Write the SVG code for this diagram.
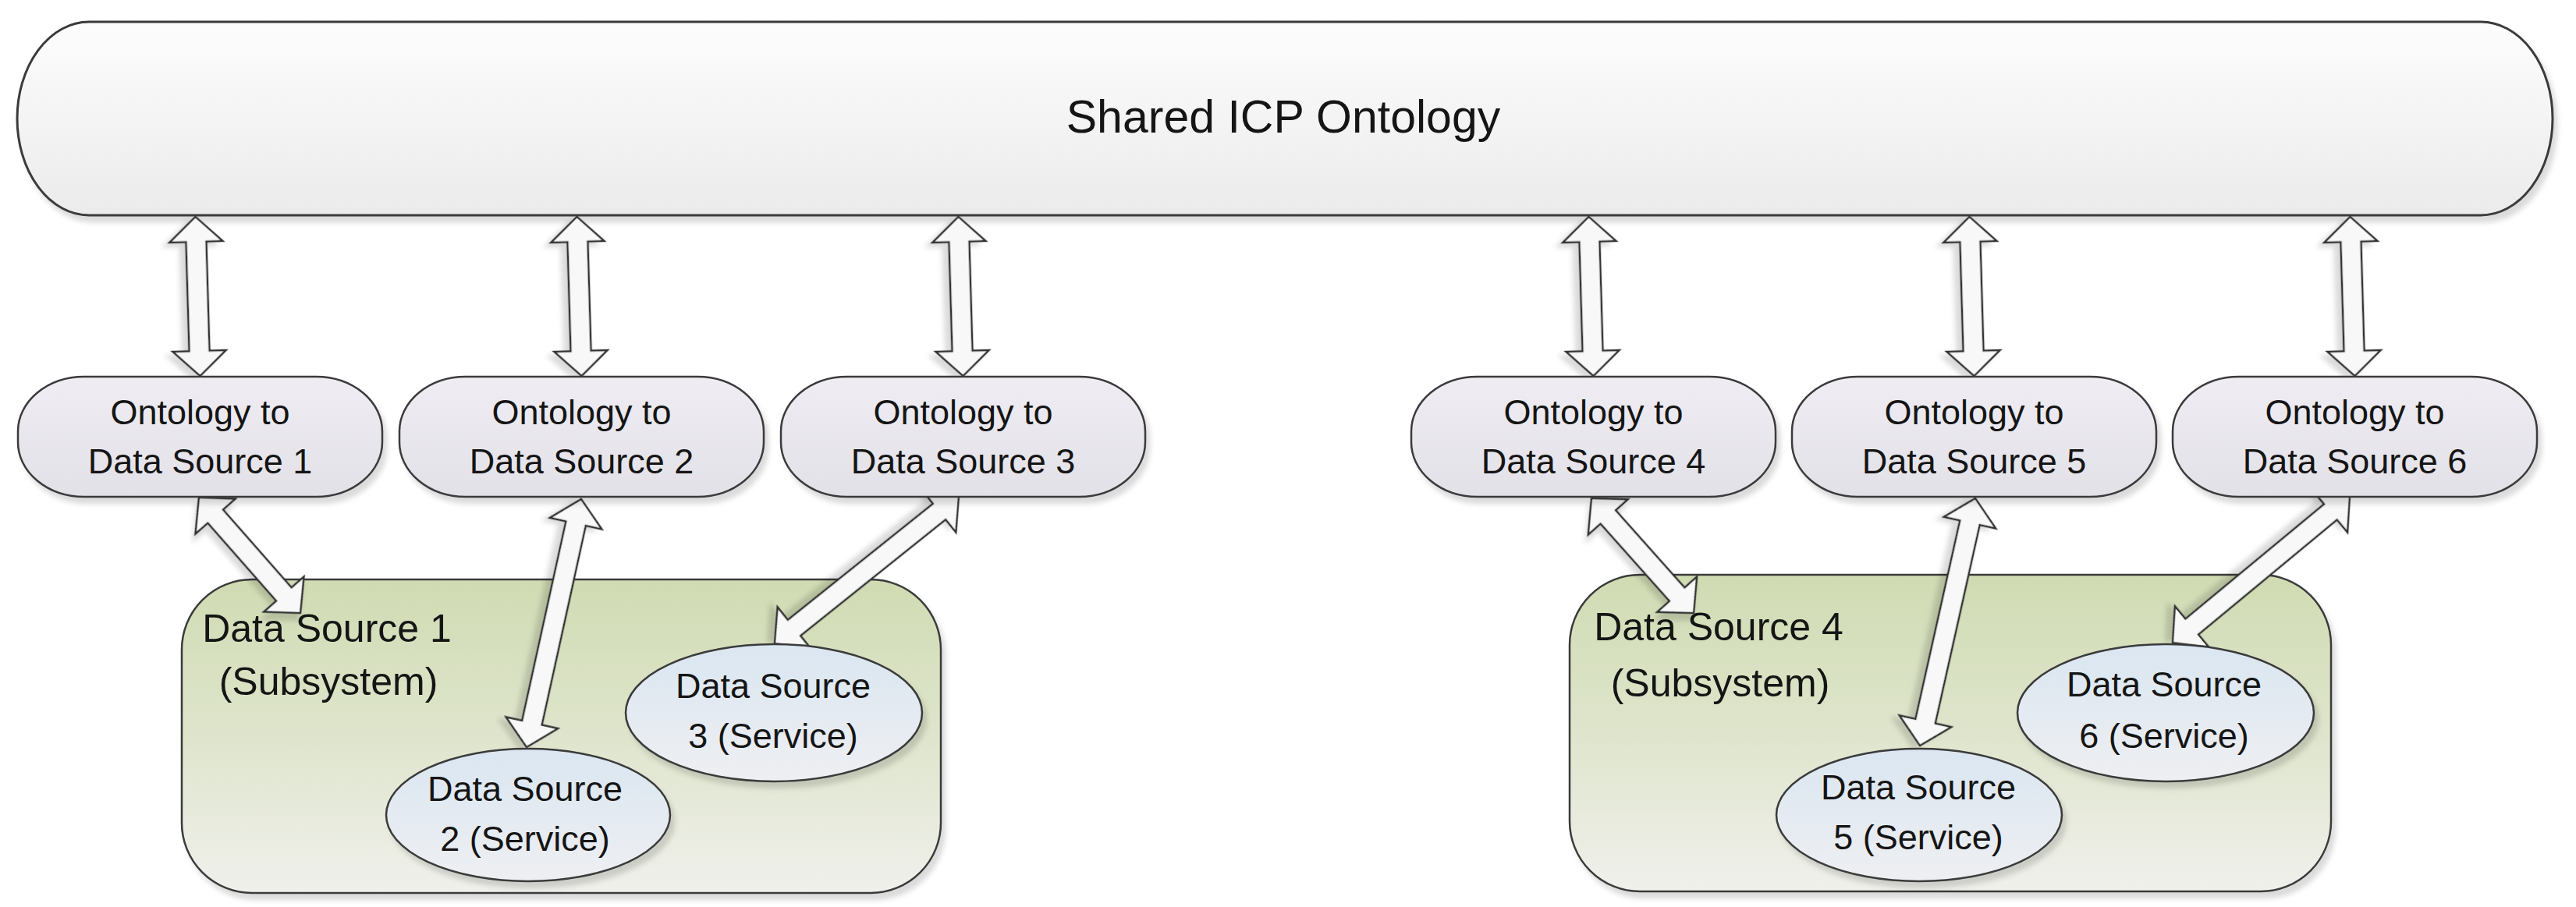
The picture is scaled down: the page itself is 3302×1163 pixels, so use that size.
<svg xmlns="http://www.w3.org/2000/svg" width="3302" height="1163" viewBox="0 0 3302 1163">
<defs>
<linearGradient id="gTop" x1="0" y1="0" x2="0" y2="1"><stop offset="0" stop-color="#fdfdfd"/><stop offset="1" stop-color="#ebebeb"/></linearGradient>
<linearGradient id="gOnt" x1="0" y1="0" x2="0" y2="1"><stop offset="0" stop-color="#efedf3"/><stop offset="1" stop-color="#e3e1e8"/></linearGradient>
<linearGradient id="gSub" x1="0" y1="0" x2="0" y2="1"><stop offset="0" stop-color="#d0dbb2"/><stop offset="0.55" stop-color="#e0e6cf"/><stop offset="1" stop-color="#f0f0ec"/></linearGradient>
<linearGradient id="gSvc" x1="0" y1="0" x2="0" y2="1"><stop offset="0" stop-color="#dae6f1"/><stop offset="1" stop-color="#eeeff2"/></linearGradient>
<filter id="sh" x="-10%" y="-10%" width="120%" height="130%"><feDropShadow dx="5" dy="8" stdDeviation="3" flood-color="#000" flood-opacity="0.14"/></filter>
</defs>
<style>
.top{fill:url(#gTop);stroke:#3a3a3a;stroke-width:3;filter:url(#sh)}
.ont{fill:url(#gOnt);stroke:#3a3a3a;stroke-width:2.5;filter:url(#sh)}
.sub{fill:url(#gSub);stroke:#3a3a3a;stroke-width:2.5;filter:url(#sh)}
.svc{fill:url(#gSvc);stroke:#3a3a3a;stroke-width:2.5;filter:url(#sh)}
.arr{fill:#f8f8f8;stroke:#333;stroke-width:2.5;stroke-linejoin:miter;filter:url(#sh)}
text{font-family:"Liberation Sans",Arial,sans-serif;fill:#151515;text-anchor:middle}
.t1{font-size:59px}
.t2{font-size:45px}
.t3{font-size:50px}
</style>
<rect width="3302" height="1163" fill="#ffffff"/>

<g id="shared-icp-ontology">
<rect class="top" x="22" y="28" width="3250" height="248" rx="92" ry="124"/>
<text class="t1" x="1645" y="170">Shared ICP Ontology</text>
</g>

<g id="subsystem-1">
<rect class="sub" x="233" y="743" width="973" height="402" rx="90" ry="90"/>
<text class="t3" x="419" y="823">Data Source 1</text>
<text class="t3" x="421" y="891">(Subsystem)</text>
</g>
<g id="subsystem-4">
<rect class="sub" x="2012" y="737" width="976" height="406" rx="90" ry="90"/>
<text class="t3" x="2203" y="821">Data Source 4</text>
<text class="t3" x="2205" y="893">(Subsystem)</text>
</g>

<g id="connectors">
<path id="a-top-1" class="arr" transform="translate(250.5,278) rotate(88.32)" d="M0,0 L32,-34 L32,-13 L172.09,-13 L172.09,-34 L204.09,0 L172.09,34 L172.09,13 L32,13 L32,34 Z"/>
<path id="a-top-2" class="arr" transform="translate(739.5,278) rotate(88.32)" d="M0,0 L32,-34 L32,-13 L172.09,-13 L172.09,-34 L204.09,0 L172.09,34 L172.09,13 L32,13 L32,34 Z"/>
<path id="a-top-3" class="arr" transform="translate(1228.5,278) rotate(88.32)" d="M0,0 L32,-34 L32,-13 L172.09,-13 L172.09,-34 L204.09,0 L172.09,34 L172.09,13 L32,13 L32,34 Z"/>
<path id="a-top-4" class="arr" transform="translate(2036.5,278) rotate(88.32)" d="M0,0 L32,-34 L32,-13 L172.09,-13 L172.09,-34 L204.09,0 L172.09,34 L172.09,13 L32,13 L32,34 Z"/>
<path id="a-top-5" class="arr" transform="translate(2524.5,278) rotate(88.32)" d="M0,0 L32,-34 L32,-13 L172.09,-13 L172.09,-34 L204.09,0 L172.09,34 L172.09,13 L32,13 L32,34 Z"/>
<path id="a-top-6" class="arr" transform="translate(3012.5,278) rotate(88.32)" d="M0,0 L32,-34 L32,-13 L172.09,-13 L172.09,-34 L204.09,0 L172.09,34 L172.09,13 L32,13 L32,34 Z"/>

<path id="a-ds-1" class="arr" transform="translate(255,638) rotate(48.70)" d="M0,0 L32,-34 L32,-13 L164.99,-13 L164.99,-34 L196.99,0 L164.99,34 L164.99,13 L32,13 L32,34 Z"/>
<path id="a-ds-2" class="arr" transform="translate(745,640) rotate(102.41)" d="M0,0 L32,-34 L32,-13 L293.61,-13 L293.61,-34 L325.61,0 L293.61,34 L293.61,13 L32,13 L32,34 Z"/>
<path id="a-ds-3" class="arr" transform="translate(1229,636) rotate(141.31)" d="M0,0 L32,-34 L32,-13 L270.35,-13 L270.35,-34 L302.35,0 L270.35,34 L270.35,13 L32,13 L32,34 Z"/>
<path id="a-ds-4" class="arr" transform="translate(2040,639) rotate(48.30)" d="M0,0 L32,-34 L32,-13 L164.90,-13 L164.90,-34 L196.90,0 L164.90,34 L164.90,13 L32,13 L32,34 Z"/>
<path id="a-ds-5" class="arr" transform="translate(2532,639) rotate(102.62)" d="M0,0 L32,-34 L32,-13 L292.85,-13 L292.85,-34 L324.85,0 L292.85,34 L292.85,13 L32,13 L32,34 Z"/>
<path id="a-ds-6" class="arr" transform="translate(3012,636) rotate(140.37)" d="M0,0 L32,-34 L32,-13 L262.74,-13 L262.74,-34 L294.74,0 L262.74,34 L262.74,13 L32,13 L32,34 Z"/>
</g>

<g id="ontology-ds1">
<rect class="ont" x="23" y="483" width="467" height="154" rx="85" ry="70"/>
<text class="t2" x="256.5" y="544">Ontology to</text>
<text class="t2" x="256.5" y="607">Data Source 1</text>
</g>
<g id="ontology-ds2">
<rect class="ont" x="512" y="483" width="467" height="154" rx="85" ry="70"/>
<text class="t2" x="745.5" y="544">Ontology to</text>
<text class="t2" x="745.5" y="607">Data Source 2</text>
</g>
<g id="ontology-ds3">
<rect class="ont" x="1001" y="483" width="467" height="154" rx="85" ry="70"/>
<text class="t2" x="1234.5" y="544">Ontology to</text>
<text class="t2" x="1234.5" y="607">Data Source 3</text>
</g>
<g id="ontology-ds4">
<rect class="ont" x="1809" y="483" width="467" height="154" rx="85" ry="70"/>
<text class="t2" x="2042.5" y="544">Ontology to</text>
<text class="t2" x="2042.5" y="607">Data Source 4</text>
</g>
<g id="ontology-ds5">
<rect class="ont" x="2297" y="483" width="467" height="154" rx="85" ry="70"/>
<text class="t2" x="2530.5" y="544">Ontology to</text>
<text class="t2" x="2530.5" y="607">Data Source 5</text>
</g>
<g id="ontology-ds6">
<rect class="ont" x="2785" y="483" width="467" height="154" rx="85" ry="70"/>
<text class="t2" x="3018.5" y="544">Ontology to</text>
<text class="t2" x="3018.5" y="607">Data Source 6</text>
</g>

<g id="ds2-service">
<ellipse class="svc" cx="677" cy="1045" rx="182" ry="85"/>
<text class="t2" x="673" y="1027">Data Source</text>
<text class="t2" x="673" y="1091">2 (Service)</text>
</g>
<g id="ds3-service">
<ellipse class="svc" cx="992" cy="914" rx="190" ry="88"/>
<text class="t2" x="991" y="895">Data Source</text>
<text class="t2" x="991" y="959">3 (Service)</text>
</g>
<g id="ds5-service">
<ellipse class="svc" cx="2460" cy="1045" rx="183" ry="85"/>
<text class="t2" x="2459" y="1025">Data Source</text>
<text class="t2" x="2459" y="1089">5 (Service)</text>
</g>
<g id="ds6-service">
<ellipse class="svc" cx="2776" cy="914" rx="190" ry="88"/>
<text class="t2" x="2774" y="893">Data Source</text>
<text class="t2" x="2774" y="959">6 (Service)</text>
</g>
</svg>
